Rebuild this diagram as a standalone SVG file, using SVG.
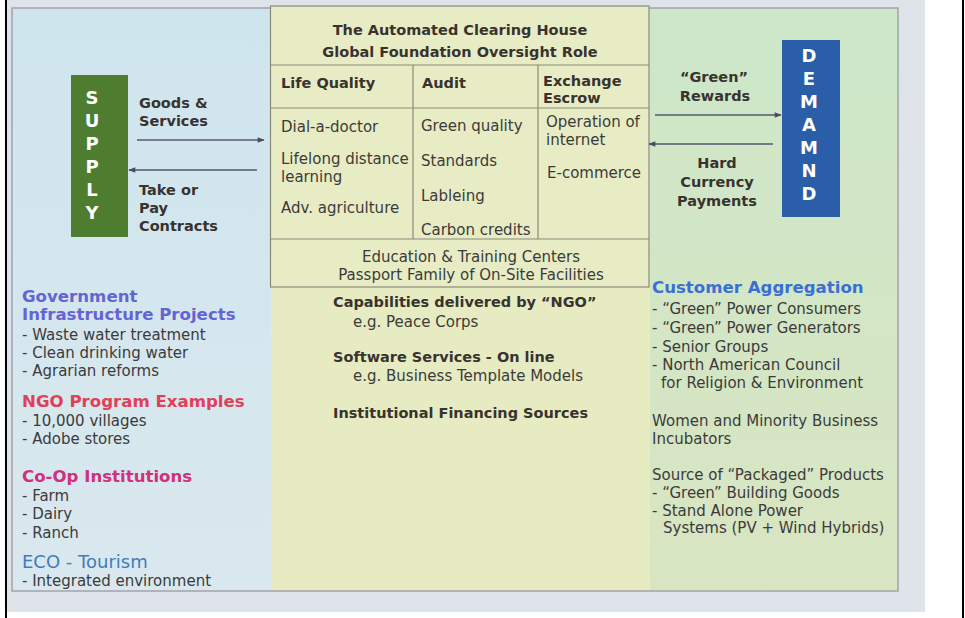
<svg xmlns="http://www.w3.org/2000/svg" width="965" height="618" viewBox="0 0 965 618">
<defs>
<linearGradient id="gl" x1="0" y1="0" x2="0" y2="1"><stop offset="0" stop-color="#cfe5ee"/><stop offset="1" stop-color="#dae8ee"/></linearGradient>
<linearGradient id="gr" x1="0" y1="0" x2="0" y2="1"><stop offset="0" stop-color="#cde7c9"/><stop offset="1" stop-color="#d9e5c2"/></linearGradient>
<marker id="ah" viewBox="0 0 10 10" refX="9" refY="5" markerUnits="userSpaceOnUse" markerWidth="8" markerHeight="7" orient="auto"><path d="M0,1 L10,5 L0,9 z" fill="#4a4a66"/></marker>
</defs>
<style>
text{font-family:"DejaVu Sans","Liberation Sans",sans-serif;fill:#3b3b3b}
.b{font-weight:bold;fill:#38332f}
.t{font-size:14.5px}
.r{font-size:15px}
.h{font-size:16.6px;font-weight:bold}
.let{font-size:18px;font-weight:bold;fill:#ffffff;text-anchor:middle}
.c{text-anchor:middle}
.ln{stroke:#8a8a7a;stroke-width:1.2;fill:none}
.ar{stroke:#55586e;stroke-width:1.3;fill:none;marker-end:url(#ah)}
</style>
<rect x="0" y="0" width="965" height="618" fill="#ffffff"/>
<rect x="7" y="0" width="918" height="612" fill="#dfe4ea"/>
<rect x="5" y="0" width="2" height="618" fill="#000"/>
<rect x="962" y="0" width="2" height="618" fill="#000"/>
<g id="panel">
<rect x="12" y="8" width="260" height="583" fill="url(#gl)"/>
<rect x="271" y="8" width="380" height="583" fill="#e6ebc2"/>
<rect x="650" y="8" width="248" height="583" fill="url(#gr)"/>
<rect x="12" y="8" width="886" height="583" fill="none" stroke="#a3a3ab" stroke-width="1.5"/>
</g>
<g id="table">
<rect x="270.5" y="6" width="378.5" height="281" fill="#e8ecc4" stroke="#8a8a7a" stroke-width="1.2"/>
<path class="ln" d="M270.5,65H649M270.5,108H649M270.5,239H649M413,65V239M538,65V239"/>
<text class="t b c" x="460" y="35">The Automated Clearing House</text>
<text class="t b c" x="460" y="57">Global Foundation Oversight Role</text>
<text class="t b" x="281" y="88">Life Quality</text>
<text class="t b" x="422" y="88">Audit</text>
<text class="t b" x="543" y="86">Exchange</text>
<text class="t b" x="543" y="103">Escrow</text>
<text class="r" x="281" y="132">Dial-a-doctor</text>
<text class="r" x="281" y="164">Lifelong distance</text>
<text class="r" x="281" y="181.5">learning</text>
<text class="r" x="281" y="213">Adv. agriculture</text>
<text class="r" x="421" y="131">Green quality</text>
<text class="r" x="421" y="166">Standards</text>
<text class="r" x="421" y="201">Lableing</text>
<text class="r" x="421" y="235">Carbon credits</text>
<text class="r" x="546" y="127">Operation of</text>
<text class="r" x="546" y="144.5">internet</text>
<text class="r" x="547" y="178">E-commerce</text>
<text class="r c" x="471" y="262">Education &amp; Training Centers</text>
<text class="r c" x="471" y="280">Passport Family of On-Site Facilities</text>
</g>
<g id="supply">
<rect x="71" y="75" width="57" height="162" fill="#4e7d2f"/>
<text class="let" x="92" y="104">S</text>
<text class="let" x="92" y="127">U</text>
<text class="let" x="92" y="150">P</text>
<text class="let" x="92" y="173">P</text>
<text class="let" x="92" y="196">L</text>
<text class="let" x="92" y="219">Y</text>
</g>
<g id="demand">
<rect x="782" y="40" width="58" height="177" fill="#2a5ea8"/>
<text class="let" x="809" y="62">D</text>
<text class="let" x="809" y="85">E</text>
<text class="let" x="809" y="108">M</text>
<text class="let" x="809" y="131">A</text>
<text class="let" x="809" y="154">M</text>
<text class="let" x="809" y="177">N</text>
<text class="let" x="809" y="200">D</text>
</g>
<g id="connectors">
<path class="ar" d="M137,140H264"/>
<path class="ar" d="M257,170H129"/>
<path class="ar" d="M655,115H781"/>
<path class="ar" d="M773,144H649"/>
<text class="t b" x="139" y="108">Goods &amp;</text>
<text class="t b" x="139" y="126">Services</text>
<text class="t b" x="139" y="195">Take or</text>
<text class="t b" x="139" y="213">Pay</text>
<text class="t b" x="139" y="231">Contracts</text>
<text class="t b c" x="714" y="82">“Green”</text>
<text class="t b c" x="715" y="101">Rewards</text>
<text class="t b c" x="717" y="168">Hard</text>
<text class="t b c" x="717" y="187">Currency</text>
<text class="t b c" x="717" y="206">Payments</text>
</g>
<g id="left-notes">
<text class="h" x="22" y="302" style="fill:#6464d2">Government</text>
<text class="h" x="22" y="320" style="fill:#6464d2">Infrastructure Projects</text>
<text class="r" x="22" y="340">- Waste water treatment</text>
<text class="r" x="22" y="358">- Clean drinking water</text>
<text class="r" x="22" y="376">- Agrarian reforms</text>
<text class="h" x="22" y="407" style="fill:#e0415a">NGO Program Examples</text>
<text class="r" x="22" y="426">- 10,000 villages</text>
<text class="r" x="22" y="444">- Adobe stores</text>
<text class="h" x="22" y="482" style="fill:#d1307c">Co-Op Institutions</text>
<text class="r" x="22" y="501">- Farm</text>
<text class="r" x="22" y="519">- Dairy</text>
<text class="r" x="22" y="538">- Ranch</text>
<text x="22" y="568" style="font-size:18px;fill:#3f7cbc">ECO - Tourism</text>
<text class="r" x="22" y="586">- Integrated environment</text>
</g>
<g id="center-notes">
<text class="t b" x="333" y="307">Capabilities delivered by “NGO”</text>
<text class="r" x="353" y="327">e.g. Peace Corps</text>
<text class="t b" x="333" y="362">Software Services - On line</text>
<text class="r" x="353" y="381">e.g. Business Template Models</text>
<text class="t b" x="333" y="418">Institutional Financing Sources</text>
</g>
<g id="right-notes">
<text class="h" x="652" y="293" style="fill:#3b6fd6">Customer Aggregation</text>
<text class="r" x="652" y="314">- “Green” Power Consumers</text>
<text class="r" x="652" y="333">- “Green” Power Generators</text>
<text class="r" x="652" y="352">- Senior Groups</text>
<text class="r" x="652" y="370">- North American Council</text>
<text class="r" x="661" y="387.5">for Religion &amp; Environment</text>
<text class="r" x="652" y="426">Women and Minority Business</text>
<text class="r" x="652" y="443.5">Incubators</text>
<text class="r" x="652" y="480">Source of “Packaged” Products</text>
<text class="r" x="652" y="497.5">- “Green” Building Goods</text>
<text class="r" x="652" y="515.5">- Stand Alone Power</text>
<text class="r" x="663" y="533">Systems (PV + Wind Hybrids)</text>
</g>
</svg>
